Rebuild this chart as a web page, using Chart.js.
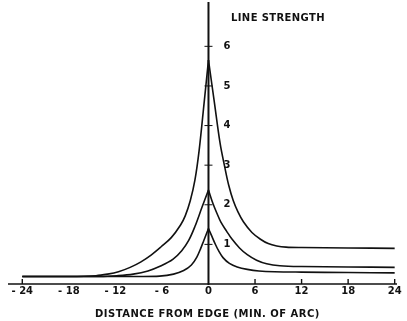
<!DOCTYPE html>
<html>
<head>
<meta charset="utf-8">
<script src="https://cdn.jsdelivr.net/npm/chart.js@4"></script>
<style>
  body { margin: 0; background: #fff; }
  canvas { display: block; }
</style>
</head>
<body>
<canvas id="chart" width="407" height="321"></canvas>
<script>
// distance from edge (min. of arc) and line strength
// each curve is split at the peak so the top stays a sharp cusp
const strongLeftX = [-24, -18, -14.5, -13, -11.6, -10.1, -8.7, -7.4, -6.1, -4.8, -3.6, -3.0, -2.35, -1.75, -1.2, -0.55, 0];
const strongLeftY = [0.19, 0.19, 0.21, 0.25, 0.31, 0.42, 0.56, 0.73, 0.94, 1.17, 1.49, 1.72, 2.1, 2.62, 3.38, 4.6, 5.65];
const strongRightX = [0, 0.75, 1.5, 2.1, 2.6, 3.2, 3.8, 4.5, 5.6, 6.7, 7.7, 8.8, 10, 12, 18, 24];
const strongRightY = [5.65, 4.6, 3.55, 2.95, 2.5, 2.1, 1.82, 1.57, 1.3, 1.13, 1.02, 0.96, 0.93, 0.92, 0.91, 0.9];

const middleLeftX = [-24, -14, -11.8, -9.7, -7.8, -6.1, -4.6, -3.45, -2.55, -1.75, -0.85, 0];
const middleLeftY = [0.19, 0.19, 0.21, 0.25, 0.33, 0.46, 0.62, 0.84, 1.1, 1.45, 1.93, 2.37];
const middleRightX = [0, 0.6, 1.1, 1.6, 2.35, 3.0, 4.0, 5.0, 6.2, 7.5, 9.2, 12, 18, 24];
const middleRightY = [2.37, 2.02, 1.78, 1.56, 1.33, 1.14, 0.91, 0.74, 0.6, 0.51, 0.46, 0.44, 0.43, 0.42];

const weakLeftX = [-24, -9, -6.3, -4.5, -3.2, -2.2, -1.5, -1.0, -0.6, -0.3, 0];
const weakLeftY = [0.19, 0.19, 0.2, 0.25, 0.34, 0.48, 0.68, 0.9, 1.1, 1.25, 1.4];
const weakRightX = [0, 0.4, 0.8, 1.3, 1.9, 2.7, 3.7, 5.0, 6.5, 8.5, 12, 18, 24];
const weakRightY = [1.4, 1.22, 1.04, 0.84, 0.66, 0.52, 0.43, 0.37, 0.33, 0.31, 0.3, 0.29, 0.28];

const xTickValues = [-24, -18, -12, -6, 0, 6, 12, 18, 24];
const xTickLabels = ["- 24", "- 18", "- 12", "- 6", "0", "6", "12", "18", "24"];
const xTickMarks = [-24, 6, 12, 18, 24];
const yTickValues = [1, 2, 3, 4, 5, 6];
const yTickLabels = ["1", "2", "3", "4", "5", "6"];

const xTitle = "DISTANCE FROM EDGE (MIN. OF ARC)";
const yTitle = "LINE STRENGTH";

function toPoints(xs, ys) {
  return xs.map((x, i) => ({ x: x, y: ys[i] }));
}

function curve(xs, ys) {
  return {
    data: toPoints(xs, ys),
    borderColor: "#111",
    borderWidth: 1.6,
    pointRadius: 0,
    fill: false,
    tension: 0.35,
  };
}

// draws the hand-lettered axes through the origin, using the chart scales
const axesPlugin = {
  id: "axesPlugin",
  afterDatasetsDraw(chart) {
    const { ctx, chartArea, scales } = chart;
    const x = scales.x;
    const y = scales.y;
    const x0 = x.getPixelForValue(0);
    const y0 = y.getPixelForValue(0);

    ctx.save();
    ctx.strokeStyle = "#111";
    ctx.fillStyle = "#111";

    // horizontal axis
    ctx.lineWidth = 1.6;
    ctx.beginPath();
    ctx.moveTo(chartArea.left + 2, y0);
    ctx.lineTo(chartArea.right, y0);
    ctx.stroke();

    // vertical axis
    ctx.lineWidth = 2;
    ctx.beginPath();
    ctx.moveTo(x0, chartArea.top + 2);
    ctx.lineTo(x0, y0 + 1);
    ctx.stroke();

    // small upward ticks on the x axis
    ctx.lineWidth = 1.4;
    xTickMarks.forEach((v) => {
      const px = x.getPixelForValue(v);
      ctx.beginPath();
      ctx.moveTo(px, y0);
      ctx.lineTo(px, y0 - 5);
      ctx.stroke();
    });

    // crosses on the y axis
    ctx.lineWidth = 1;
    yTickValues.forEach((v) => {
      const py = y.getPixelForValue(v);
      ctx.beginPath();
      ctx.moveTo(x0 - 4, py);
      ctx.lineTo(x0 + 4, py);
      ctx.stroke();
    });

    ctx.font = "bold 10px 'DejaVu Sans'";
    ctx.textBaseline = "middle";

    ctx.textAlign = "center";
    xTickValues.forEach((v, i) => {
      ctx.fillText(xTickLabels[i], x.getPixelForValue(v), y0 + 7);
    });

    ctx.textAlign = "left";
    yTickValues.forEach((v, i) => {
      ctx.fillText(yTickLabels[i], x0 + 15, y.getPixelForValue(v));
    });

    // titles, stretched to the width of the lettering in the figure
    ctx.font = "bold 10px 'DejaVu Sans'";
    ctx.letterSpacing = "0px";
    let w = ctx.measureText(xTitle).width;
    ctx.letterSpacing = ((225 - w) / xTitle.length).toFixed(2) + "px";
    ctx.fillText(xTitle, 95, y0 + 30);

    ctx.letterSpacing = "0px";
    w = ctx.measureText(yTitle).width;
    ctx.letterSpacing = ((94 - w) / yTitle.length).toFixed(2) + "px";
    ctx.fillText(yTitle, 231, 18);

    ctx.restore();
  },
};

new Chart(document.getElementById("chart"), {
  type: "line",
  data: {
    datasets: [
      curve(strongLeftX, strongLeftY),
      curve(strongRightX, strongRightY),
      curve(middleLeftX, middleLeftY),
      curve(middleRightX, middleRightY),
      curve(weakLeftX, weakLeftY),
      curve(weakRightX, weakRightY),
    ],
  },
  options: {
    responsive: false,
    animation: false,
    layout: { padding: { left: 6, right: 10, top: 0, bottom: 37 } },
    plugins: { legend: { display: false }, tooltip: { enabled: false } },
    scales: {
      x: { type: "linear", min: -26.1, max: 24.3, display: false },
      y: { type: "linear", min: 0, max: 7.17, display: false },
    },
  },
  plugins: [axesPlugin],
});
</script>
</body>
</html>
